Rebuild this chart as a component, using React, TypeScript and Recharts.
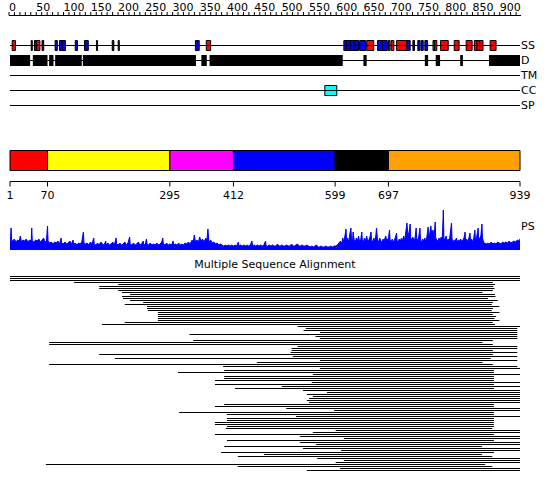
import React from 'react';
import {
  ComposedChart,
  BarChart,
  AreaChart,
  Area,
  Bar,
  XAxis,
  YAxis,
  ReferenceLine,
  ReferenceArea,
} from 'recharts';

const FONT = '"DejaVu Sans", sans-serif';
const SEQ_LEN = 939;

// ---- ruler ----
const rulerLabels = [0, 50, 100, 150, 200, 250, 300, 350, 400, 450, 500, 550, 600, 650, 700, 750, 800, 850, 900];
const rulerStep = 10;

// ---- feature tracks ----
const trackNames = ['SS', 'D', 'TM', 'CC', 'SP'];
// secondary structure: [start, end, type]  H = helix (red), E = strand (blue), X = short element
const ssElements: [number, number, string][] = [
  [5, 11, 'H'], [40, 42, 'X'], [46, 50, 'E'], [50, 56, 'H'], [60, 63, 'X'],
  [84, 88, 'E'], [92, 97, 'E'], [97, 103, 'E'], [121, 125, 'E'], [138, 145, 'E'],
  [160, 162, 'X'], [189, 192, 'X'], [200, 202, 'X'], [342, 349, 'E'], [362, 370, 'H'],
  [615, 620, 'E'], [620, 627, 'E'], [627, 634, 'E'], [634, 642, 'E'], [644, 655, 'E'],
  [657, 670, 'H'], [677, 686, 'E'], [686, 695, 'E'], [697, 700, 'H'], [702, 707, 'H'],
  [712, 731, 'H'], [731, 737, 'E'], [742, 745, 'X'], [751, 755, 'E'], [757, 761, 'E'],
  [764, 769, 'E'], [779, 782, 'H'], [782, 786, 'H'], [793, 807, 'H'], [818, 827, 'H'],
  [840, 851, 'H'], [855, 860, 'H'], [860, 865, 'H'], [865, 871, 'H'], [884, 895, 'H'],
];
const ssColors: Record<string, string> = { H: '#ff0000', E: '#0000ff', X: '#000000' };
const disorder: [number, number][] = [
  [1, 38], [43, 70], [73, 81], [84, 133], [135, 343], [353, 363], [368, 613],
  [651, 657], [764, 770], [784, 792], [829, 834], [882, 939],
];
const transmembrane: [number, number][] = [];
const coiledCoil: [number, number][] = [[580, 602]];
const signalPeptide: [number, number][] = [];

// ---- domains ----
const domainStarts = [1, 70, 295, 412, 599, 697];
const domainEnds = [70, 295, 412, 599, 697, 939];
const domainColors = ['#ff0000', '#ffff00', '#ff00ff', '#0000ff', '#000000', '#ffa000'];
const domainTicks = [1, 70, 295, 412, 599, 697, 939];

// ---- PS profile: [residue, score] ----
const psPoints: [number, number][] = [
  [1, 8], [2, 12], [3, 22], [4, 10], [6, 9], [9, 11], [12, 8], [15, 10], [18, 9], [20, 14], [22, 8],
  [25, 10], [28, 9], [31, 11], [34, 8], [37, 10], [40, 9], [41, 22], [42, 9], [45, 8], [48, 10],
  [51, 9], [54, 11], [57, 8], [60, 10], [63, 12], [65, 8], [68, 9], [70, 24], [71, 9], [74, 7],
  [77, 8], [80, 6], [83, 8], [86, 7], [89, 9], [92, 6], [95, 12], [96, 7], [99, 6], [102, 8],
  [105, 6], [108, 7], [111, 9], [114, 6], [117, 10], [118, 6], [121, 7], [124, 5], [127, 7],
  [130, 6], [133, 8], [136, 18], [137, 7], [140, 6], [143, 7], [146, 5], [149, 8], [152, 6],
  [155, 12], [156, 6], [159, 5], [162, 7], [165, 5], [168, 8], [171, 6], [174, 5], [177, 9],
  [178, 5], [181, 7], [184, 5], [187, 6], [190, 8], [193, 5], [196, 12], [197, 6], [200, 5],
  [203, 7], [206, 5], [209, 6], [212, 8], [215, 5], [218, 7], [221, 13], [222, 6], [225, 5],
  [228, 7], [231, 5], [234, 6], [237, 8], [240, 5], [243, 6], [246, 9], [247, 5], [250, 6],
  [252, 11], [253, 6], [256, 5], [259, 7], [262, 5], [265, 6], [268, 5], [271, 7], [274, 5],
  [277, 6], [280, 8], [282, 12], [283, 6], [286, 5], [289, 7], [292, 5], [295, 6], [298, 5],
  [301, 9], [302, 5], [305, 6], [308, 5], [311, 7], [314, 5], [317, 6], [320, 5], [323, 7],
  [326, 6], [329, 8], [332, 6], [336, 10], [338, 7], [340, 15], [342, 8], [345, 10], [347, 7],
  [350, 13], [352, 9], [355, 11], [358, 8], [361, 12], [363, 9], [365, 21], [367, 8], [370, 10],
  [373, 7], [376, 8], [379, 6], [382, 7], [385, 5], [388, 6], [391, 5], [394, 4],
  [397, 5], [400, 4], [403, 5], [406, 4], [409, 5], [412, 4], [415, 5], [418, 4], [421, 8],
  [422, 4], [425, 5], [428, 4], [431, 5], [434, 4], [437, 5], [440, 4], [443, 5], [446, 9],
  [447, 4], [450, 5], [453, 4], [456, 5], [459, 4], [462, 5], [465, 4], [468, 5], [471, 9],
  [472, 4], [475, 4], [478, 5], [481, 4], [484, 5], [487, 4], [490, 4], [493, 6], [495, 4],
  [498, 4], [501, 5], [504, 4], [507, 4], [510, 5], [513, 4], [516, 4], [519, 6], [521, 4],
  [524, 4], [527, 5], [530, 6], [532, 4], [535, 4], [538, 5], [541, 4], [544, 4], [547, 5],
  [550, 4], [553, 3], [556, 4], [559, 3], [562, 4], [565, 5], [567, 3], [570, 3], [573, 4],
  [576, 3], [579, 3], [582, 4], [585, 3], [588, 3], [591, 4], [594, 3], [597, 4], [600, 4],
  [603, 5], [606, 7], [609, 9], [611, 6], [613, 12],
  [615, 8], [617, 14], [619, 21], [620, 10], [622, 12], [624, 8], [626, 16], [628, 22], [629, 12],
  [631, 9], [632, 18], [634, 10], [636, 8], [638, 12], [640, 9], [642, 14], [644, 8], [646, 10],
  [648, 18], [649, 10], [651, 8], [653, 12], [655, 9], [657, 14], [659, 8], [661, 10], [663, 13],
  [665, 18], [666, 10], [668, 8], [670, 12], [672, 9], [674, 15], [675, 22], [677, 10], [679, 8],
  [681, 12], [683, 9], [685, 8], [687, 11], [689, 9], [692, 14], [694, 9], [697, 12], [699, 20],
  [700, 10], [702, 8], [704, 11], [706, 8], [708, 10], [710, 13], [712, 17], [713, 9], [715, 8],
  [717, 11], [719, 9], [721, 12], [723, 9], [725, 14], [727, 10], [729, 18], [731, 27], [733, 14],
  [735, 18], [737, 26], [738, 12], [740, 10], [742, 13], [744, 9], [746, 12], [748, 22], [749, 11],
  [751, 10], [753, 14], [755, 22], [756, 10], [758, 8], [760, 11], [762, 9], [764, 12], [766, 8],
  [768, 14], [770, 23], [771, 12], [773, 16], [775, 24], [777, 14], [779, 20], [781, 12], [783, 28],
  [784, 12], [786, 10], [788, 9], [790, 12], [792, 9], [794, 13], [796, 10], [798, 40], [799, 12],
  [801, 10], [803, 14], [805, 9], [807, 11], [809, 9], [811, 18], [813, 27], [814, 11], [816, 8],
  [818, 10], [820, 9], [822, 12], [824, 8], [826, 10], [828, 9], [830, 11], [832, 8], [834, 10],
  [836, 12], [838, 18], [839, 9], [841, 11], [843, 8], [845, 12], [847, 17], [848, 9], [850, 11],
  [852, 8], [854, 12], [856, 20], [857, 9], [859, 12], [862, 22], [863, 10], [865, 12], [867, 14],
  [869, 26], [870, 12], [872, 8], [874, 7],
  [877, 6], [880, 7], [883, 6], [886, 8], [889, 6], [892, 7], [895, 6], [898, 8], [901, 7],
  [904, 6], [907, 8], [910, 7], [913, 8], [916, 7], [919, 9], [922, 7], [925, 8], [928, 9],
  [931, 8], [934, 10], [937, 9], [939, 11],
];

// ---- multiple sequence alignment rows [start, end] ----
const msaRows: [number, number][] = [
  [1, 939], [1, 939], [1, 939], [119, 889], [200, 893], [165, 890], [165, 892], [200, 889],
  [207, 870], [222, 893], [207, 894], [209, 880], [222, 898], [246, 889], [212, 887], [253, 901],
  [253, 889], [255, 887], [273, 901], [273, 889], [273, 895], [273, 892], [273, 901], [212, 889],
  [170, 893],
  [530, 939], [545, 934], [541, 934], [571, 934], [331, 934], [563, 934], [571, 934], [338, 889],
  [73, 870], [73, 889], [530, 934], [519, 934], [519, 889], [517, 934], [165, 889], [521, 934],
  [194, 885], [571, 934], [455, 870], [73, 889], [393, 934],
  [571, 939], [395, 891], [310, 891], [558, 939], [395, 891], [395, 891], [378, 891], [556, 939],
  [378, 891], [501, 939], [415, 891], [540, 939], [584, 939], [547, 939], [558, 939], [551, 939],
  [547, 939], [551, 939], [395, 891], [378, 891], [509, 939], [597, 939], [312, 891], [400, 891],
  [527, 939], [400, 891], [400, 891], [378, 891], [378, 891], [400, 891], [398, 888], [600, 939],
  [558, 939], [378, 891], [534, 939], [615, 939], [400, 891], [534, 939], [564, 939], [395, 869],
  [540, 939], [610, 939], [389, 891], [468, 869], [420, 888], [566, 939], [615, 939], [600, 939],
  [67, 875], [420, 888], [608, 939], [547, 939],
];

const LEFT = 10;
const RIGHT = 30;
const W = 550;

const RulerTick = (props: any) => {
  const { x, payload } = props;
  if (!rulerLabels.includes(payload.value)) return <g />;
  return (
    <text x={x} y={11} fontSize={11} fontFamily={FONT} fill="#000" textAnchor="start">
      {payload.value}
    </text>
  );
};

const Ruler = () => {
  const ticks = Array.from({ length: Math.floor(SEQ_LEN / rulerStep) + 1 }, (_, i) => i * rulerStep);
  const data = rulerLabels.map((v) => ({ v }));
  return (
    <ComposedChart width={W} height={20} data={data} margin={{ top: 0, right: 29, bottom: 0, left: 9 }}>
      <XAxis
        type="number"
        dataKey="v"
        domain={[0, SEQ_LEN]}
        orientation="top"
        height={15.5}
        ticks={ticks}
        interval={0}
        tickSize={3.5}
        axisLine={{ stroke: '#000' }}
        tickLine={{ stroke: '#000' }}
        tick={(p: any) => <RulerTick {...p} />}
        allowDataOverflow
      />
      <YAxis hide domain={[0, 1]} allowDataOverflow />
    </ComposedChart>
  );
};

const Tracks = () => {
  const data = trackNames.map((n, i) => ({ name: n, res: 1, y: i + 0.5 }));
  const groups: { regions: [number, number][]; idx: number; half: number; fill: string; stroke: string }[] = [
    { regions: disorder, idx: 1, half: 5.5 / 15, fill: '#000', stroke: 'none' },
    { regions: transmembrane, idx: 2, half: 5 / 15, fill: '#808080', stroke: '#000' },
    { regions: coiledCoil, idx: 3, half: 5 / 15, fill: '#00ffff', stroke: '#000' },
    { regions: signalPeptide, idx: 4, half: 5 / 15, fill: '#00ff00', stroke: '#000' },
  ];
  return (
    <ComposedChart width={W} height={75} data={data} margin={{ top: 0, right: 0, bottom: 0, left: LEFT }}>
      <XAxis type="number" dataKey="res" domain={[1, SEQ_LEN]} hide allowDataOverflow />
      <YAxis
        type="number"
        dataKey="y"
        domain={[0, 5]}
        allowDataOverflow
        reversed
        orientation="right"
        width={RIGHT}
        ticks={[0.5, 1.5, 2.5, 3.5, 4.5]}
        interval={0}
        tickFormatter={(v: number) => trackNames[Math.floor(v)]}
        axisLine={false}
        tickLine={false}
        tickSize={0}
        tickMargin={1}
        tick={{ fontSize: 11, fontFamily: FONT, fill: '#000' }}
      />
      {trackNames.map((n, i) => (
        <ReferenceLine key={n} y={i + 0.5} stroke="#000" strokeWidth={1} ifOverflow="visible" />
      ))}
      {groups.map((g) =>
        g.regions.map(([s, e], k) => (
          <ReferenceArea
            key={`${g.idx}-${k}`}
            x1={s}
            x2={e}
            y1={g.idx + 0.5 - g.half}
            y2={g.idx + 0.5 + g.half}
            fill={g.fill}
            fillOpacity={1}
            stroke={g.stroke}
            strokeWidth={1}
            ifOverflow="visible"
          />
        ))
      )}
      {ssElements.map(([s, e, t], k) => (
        <ReferenceArea
          key={`ss-${k}`}
          x1={s}
          x2={e}
          y1={0.5 - 1 / 3}
          y2={0.5 + 1 / 3}
          fill={ssColors[t]}
          fillOpacity={1}
          stroke="#000"
          strokeWidth={1}
          ifOverflow="visible"
        />
      ))}
    </ComposedChart>
  );
};

const Domains = () => {
  const data = domainTicks.map((v, i) => ({ res: v, y: i === 0 ? 0 : 41 }));
  return (
    <ComposedChart width={W} height={71} data={data} margin={{ top: 0.5, right: RIGHT, bottom: 0.5, left: LEFT }}>
      <XAxis
        type="number"
        dataKey="res"
        domain={[1, SEQ_LEN]}
        allowDataOverflow
        ticks={domainTicks}
        interval={0}
        height={29}
        tickSize={5}
        tickMargin={5}
        axisLine={{ stroke: '#000' }}
        tickLine={{ stroke: '#000' }}
        tick={{ fontSize: 11, fontFamily: FONT, fill: '#000' }}
      />
      <YAxis hide type="number" dataKey="y" domain={[0, 41]} allowDataOverflow />
      {domainStarts.map((s, i) => (
        <ReferenceArea
          key={i}
          x1={s}
          x2={domainEnds[i]}
          y1={11}
          y2={31}
          fill={domainColors[i]}
          fillOpacity={1}
          stroke="#000"
          strokeWidth={1}
          ifOverflow="visible"
        />
      ))}
    </ComposedChart>
  );
};

const PSProfile = () => {
  const data = psPoints.map(([res, v]) => ({ res, v }));
  return (
    <AreaChart width={W} height={50} data={data} margin={{ top: 5, right: 0, bottom: 5, left: LEFT }}>
      <XAxis type="number" dataKey="res" domain={[1, SEQ_LEN]} hide allowDataOverflow />
      <YAxis
        type="number"
        domain={[0, 40]}
        allowDataOverflow
        orientation="right"
        width={RIGHT}
        ticks={[24]}
        tickFormatter={() => 'PS'}
        axisLine={false}
        tickLine={false}
        tickSize={0}
        tickMargin={1}
        tick={{ fontSize: 11, fontFamily: FONT, fill: '#000' }}
      />
      <Area
        type="linear"
        dataKey="v"
        stroke="#0000ff"
        strokeWidth={1}
        fill="#0000ff"
        fillOpacity={1}
        baseValue={0}
        dot={false}
        activeDot={false}
        isAnimationActive={false}
      />
    </AreaChart>
  );
};

const MSA = () => {
  const data = msaRows.map(([s, e], i) => ({ id: `seq${i + 1}`, range: [s, e] }));
  return (
    <BarChart
      layout="vertical"
      width={W}
      height={msaRows.length * 2}
      data={data}
      margin={{ top: 0, right: RIGHT, bottom: 0, left: LEFT }}
      barCategoryGap={0}
    >
      <XAxis type="number" domain={[1, SEQ_LEN]} hide allowDataOverflow />
      <YAxis type="category" dataKey="id" hide />
      <Bar dataKey="range" fill="#000" barSize={1} isAnimationActive={false} />
    </BarChart>
  );
};

export default function App() {
  return (
    <div
      style={{
        position: 'absolute',
        left: 0,
        top: 0,
        width: 550,
        height: 495,
        background: '#fff',
        overflow: 'hidden',
        fontFamily: FONT,
      }}
    >
      <div style={{ position: 'absolute', left: 0, top: 0 }}>
        <Ruler />
      </div>
      <div style={{ position: 'absolute', left: 0, top: 38 }}>
        <Tracks />
      </div>
      <div style={{ position: 'absolute', left: 0, top: 140 }}>
        <Domains />
      </div>
      <div style={{ position: 'absolute', left: 0, top: 205 }}>
        <PSProfile />
      </div>
      <div
        style={{
          position: 'absolute',
          left: 0,
          top: 258,
          width: 550,
          textAlign: 'center',
          fontSize: 11,
          lineHeight: '13px',
          color: '#000',
        }}
      >
        Multiple Sequence Alignment
      </div>
      <div style={{ position: 'absolute', left: 0, top: 275 }}>
        <MSA />
      </div>
    </div>
  );
}
